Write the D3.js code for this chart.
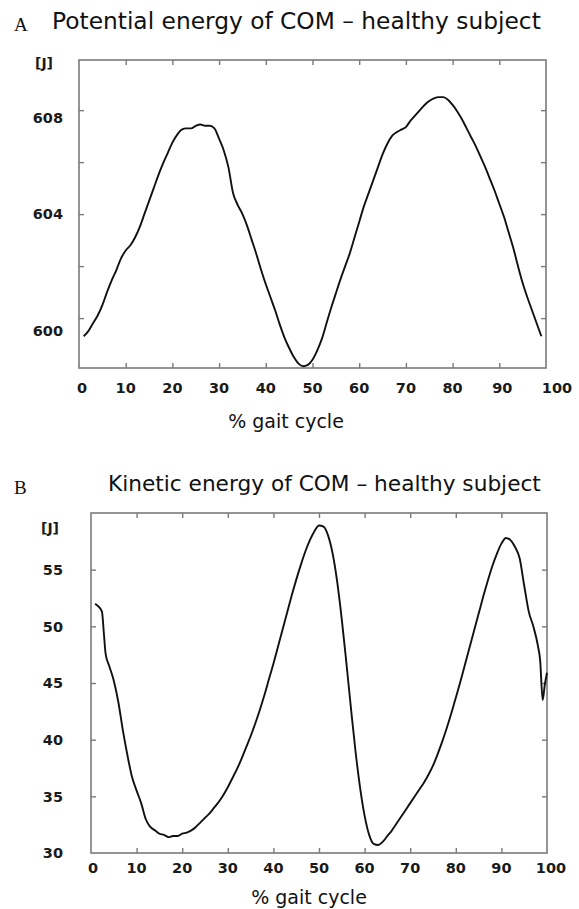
<!DOCTYPE html>
<html><head><meta charset="utf-8">
<script src="https://cdn.jsdelivr.net/npm/d3@7"></script>
<style>body{margin:0;background:#fff}</style>
</head><body><svg id="c" width="579" height="909"></svg>
<script>
// ---------- data ----------
const panelLetters = ["A", "B"];
const panelTitles = ["Potential energy of COM \u2013 healthy subject", "Kinetic energy of COM \u2013 healthy subject"];
const xAxisTitle = "% gait cycle";
const unitLabel = "[J]";
const xTickValues = [0,10,20,30,40,50,60,70,80,90,100];

const potentialX = [1,2,3,4,5,6,7,8,9,10,11,12,13,14,15,16,17,18,19,20,21,22,23,24,25,26,27,28,29,30,31,32,33,34,35,36,37,38,39,40,41,42,43,44,45,46,47,48,49,50,51,52,53,54,55,56,57,58,59,60,61,62,63,64,65,66,67,68,69,70,71,72,73,74,75,76,77,78,79,80,81,82,83,84,85,86,87,88,89,90,91,92,93,94,95,96,97,98,99];
const potentialJ = [599.3,599.5,599.8,600.1,600.5,601.0,601.45,601.85,602.3,602.6,602.8,603.1,603.5,604.0,604.5,605.0,605.5,605.95,606.35,606.75,607.05,607.25,607.3,607.3,607.4,607.45,607.4,607.4,607.3,606.9,606.45,605.8,604.8,604.35,604.0,603.55,603.0,602.45,601.85,601.3,600.8,600.3,599.75,599.25,598.85,598.5,598.25,598.15,598.2,598.4,598.75,599.2,599.8,600.4,600.95,601.5,602.0,602.5,603.1,603.7,604.3,604.8,605.3,605.8,606.3,606.7,607.0,607.15,607.25,607.35,607.6,607.8,608.0,608.2,608.35,608.45,608.5,608.5,608.4,608.2,607.95,607.65,607.3,606.95,606.6,606.2,605.8,605.35,604.9,604.4,603.9,603.3,602.7,602.0,601.35,600.8,600.3,599.8,599.3];
const potentialTicks = [600,602,604,606,608];
const potentialLabels = [600,604,608];

const kineticX = [0.9,1.5,2.4,2.8,3.2,4,5,6,7,8,9,10,11,12,13,14,15,16,17,18,19,20,21,22,23,24,25,26,27,28,29,30,31,32,33,34,35,36,37,38,39,40,41,42,43,44,45,46,47,48,49,50,51,52,53,54,55,56,57,58,59,60,61,62,63,64,65,66,67,68,69,70,71,72,73,74,75,76,77,78,79,80,81,82,83,84,85,86,87,88,89,90,91,92,93,94,95,96,97,98,98.5,99.05,99.5,100];
const kineticJ = [52.0,51.8,51.3,49.5,47.6,46.5,45.2,43.3,40.8,38.6,36.7,35.5,34.4,33.0,32.3,32.0,31.7,31.6,31.4,31.5,31.5,31.7,31.8,32.0,32.3,32.7,33.1,33.5,34.0,34.5,35.1,35.8,36.6,37.4,38.3,39.3,40.3,41.4,42.6,43.9,45.3,46.7,48.2,49.7,51.2,52.7,54.1,55.4,56.6,57.6,58.4,58.9,58.8,58.0,56.4,53.9,50.6,46.8,42.8,39.0,35.8,33.3,31.6,30.8,30.7,31.0,31.5,32.0,32.6,33.2,33.8,34.4,35.0,35.6,36.2,36.9,37.7,38.7,39.8,41.0,42.3,43.7,45.1,46.6,48.1,49.6,51.1,52.6,54.0,55.3,56.4,57.3,57.8,57.6,57.0,56.0,53.6,51.3,50.0,48.3,47.0,43.5,44.8,45.9];
const kineticTicks = [30,35,40,45,50,55];
const kineticLabels = [30,35,40,45,50,55];

// ---------- drawing ----------
const svg = d3.select("#c");
const frameColor = "#7a7a7a";
const sans = "'DejaVu Sans', Verdana, sans-serif";

const panels = [
  { letter: panelLetters[0], title: panelTitles[0], xs: potentialX, ys: potentialJ, ticks: potentialTicks, labels: potentialLabels,
    left: 79, right: 546, top: 60, bottom: 368, yDomain: [598.08, 609.93],
    letterY: 31, titleX: 52, titleEnd: 541, titleY: 29,
    unitPos: [44, 68], xLabelY: 393, xTitle: [286, 428],
    yLabelNudge: {600: 13, 604: 0, 608: 7.5}, xLabelNudge: {0: 3, 90: 3, 100: 11} },
  { letter: panelLetters[1], title: panelTitles[1], xs: kineticX, ys: kineticJ, ticks: kineticTicks, labels: kineticLabels,
    left: 91, right: 547, top: 513, bottom: 853, yDomain: [30, 60],
    letterY: 494, titleX: 108, titleEnd: 541, titleY: 491,
    unitPos: [50, 533], xLabelY: 873, xTitle: [309, 904],
    yLabelNudge: {}, xLabelNudge: {0: 2, 100: 4} }
];

panels.forEach(p => {
  const x = d3.scaleLinear().domain([0, 100]).range([p.left, p.right]);
  const y = d3.scaleLinear().domain(p.yDomain).range([p.bottom, p.top]);
  const g = svg.append("g");

  g.append("text").attr("x", 14).attr("y", p.letterY)
    .attr("font-family", "'Liberation Serif', 'Times New Roman', serif").attr("font-size", 19)
    .attr("fill", "#111").text(p.letter);

  const t = g.append("text").attr("x", p.titleX).attr("y", p.titleY)
    .attr("font-family", sans).attr("font-size", 18).attr("fill", "#111").text(p.title);
  const w = t.node().getComputedTextLength();
  t.attr("font-size", 18 * (p.titleEnd - p.titleX) / w);

  g.append("rect").attr("x", p.left).attr("y", p.top)
    .attr("width", p.right - p.left).attr("height", p.bottom - p.top)
    .attr("fill", "none").attr("stroke", frameColor).attr("stroke-width", 1.6);

  const tickLen = 5;
  const inner = xTickValues.slice(1, -1);
  g.append("g").attr("transform", `translate(0,${p.bottom})`)
    .call(d3.axisTop(x).tickValues(inner).tickSize(tickLen).tickFormat(""))
    .call(a => a.select(".domain").remove());
  g.append("g").attr("transform", `translate(0,${p.top})`)
    .call(d3.axisBottom(x).tickValues(inner).tickSize(tickLen).tickFormat(""))
    .call(a => a.select(".domain").remove());
  const yInner = p.ticks.filter(v => y(v) < p.bottom - 2 && y(v) > p.top + 2);
  g.append("g").attr("transform", `translate(${p.left},0)`)
    .call(d3.axisRight(y).tickValues(yInner).tickSize(tickLen).tickFormat(""))
    .call(a => a.select(".domain").remove());
  g.append("g").attr("transform", `translate(${p.right},0)`)
    .call(d3.axisLeft(y).tickValues(yInner).tickSize(tickLen).tickFormat(""))
    .call(a => a.select(".domain").remove());
  g.selectAll(".tick line").attr("stroke", frameColor).attr("stroke-width", 1.4);

  g.append("g").selectAll("text").data(xTickValues).join("text")
    .attr("x", d => x(d) + (p.xLabelNudge[d] || 0)).attr("y", p.xLabelY)
    .attr("text-anchor", "middle").attr("font-family", sans).attr("font-weight", "bold")
    .attr("font-size", 14.5).attr("fill", "#1a1a1a").text(d => d);

  g.append("g").selectAll("text").data(p.labels).join("text")
    .attr("x", 63).attr("y", d => y(d) + (p.yLabelNudge[d] || 0)).attr("dy", "0.36em")
    .attr("text-anchor", "end").attr("font-family", sans).attr("font-weight", "bold")
    .attr("font-size", 14.5).attr("fill", "#1a1a1a").text(d => d);

  g.append("text").attr("x", p.unitPos[0]).attr("y", p.unitPos[1])
    .attr("text-anchor", "middle").attr("font-family", sans).attr("font-weight", "bold")
    .attr("font-size", 14).attr("fill", "#1a1a1a").text(unitLabel);

  g.append("text").attr("x", p.xTitle[0]).attr("y", p.xTitle[1])
    .attr("text-anchor", "middle").attr("font-family", sans)
    .attr("font-size", 19).attr("fill", "#111").text(xAxisTitle);

  const pts = p.xs.map((v, i) => [v, p.ys[i]]);
  g.append("path").datum(pts)
    .attr("fill", "none").attr("stroke", "#111").attr("stroke-width", 1.9)
    .attr("stroke-linejoin", "round")
    .attr("d", d3.line().x(d => x(d[0])).y(d => y(d[1])).curve(d3.curveMonotoneX));
});
</script>
</body></html>
